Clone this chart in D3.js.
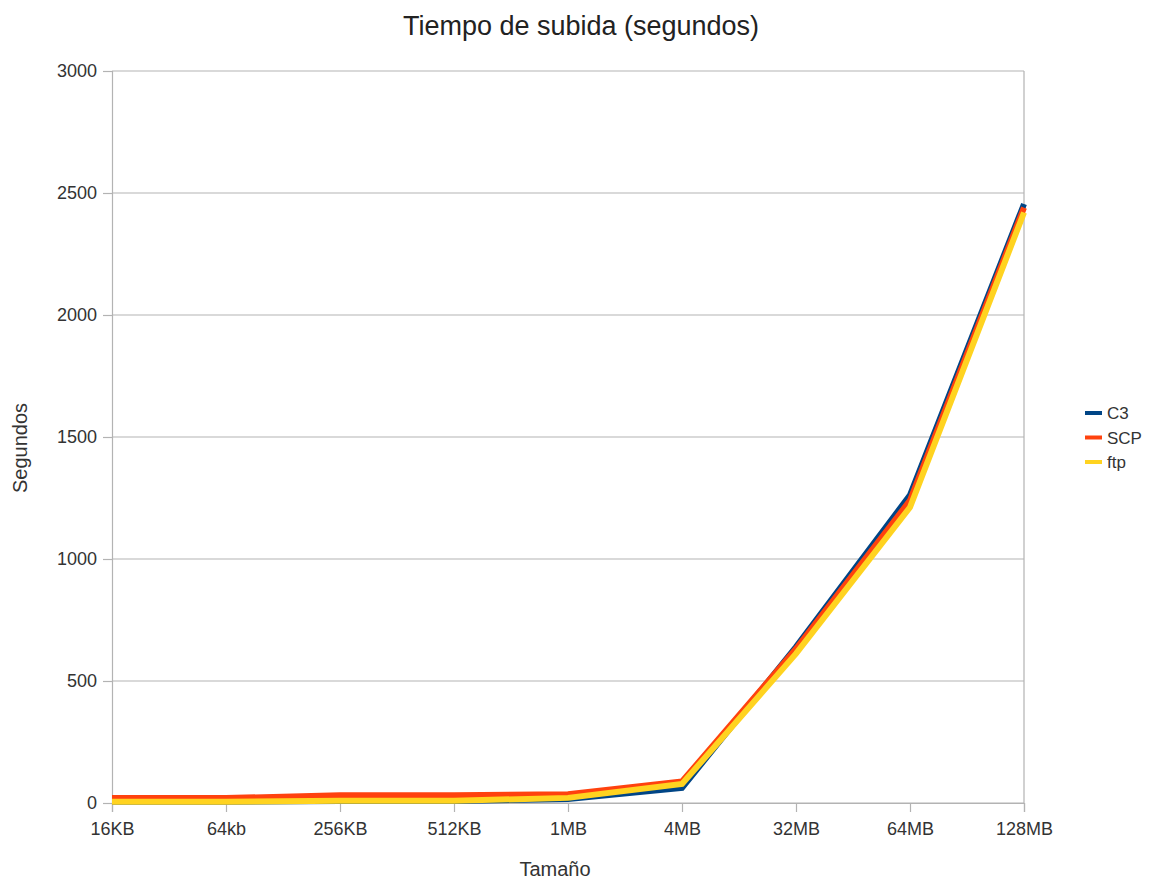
<!DOCTYPE html>
<html>
<head>
<meta charset="utf-8">
<script src="https://d3js.org/d3.v7.min.js"></script>
<style>
  body { margin: 0; background: #fff; }
  text { font-family: "Liberation Sans", Arial, sans-serif; }
</style>
</head>
<body>
<script>
// data
var sizes = ["16KB", "64kb", "256KB", "512KB", "1MB", "4MB", "32MB", "64MB", "128MB"];
var c3  = [5, 5, 8, 8, 16, 62, 640, 1262, 2455];
var scp = [20, 20, 32, 32, 36, 88, 632, 1240, 2440];
var ftp = [5, 5, 9, 9, 21, 78, 612, 1212, 2420];
var yTicks = [0, 500, 1000, 1500, 2000, 2500, 3000];

var series = [
  {name: "C3",  values: c3,  color: "#004586"},
  {name: "SCP", values: scp, color: "#ff420e"},
  {name: "ftp", values: ftp, color: "#ffd320"}
];

var width = 1158, height = 881;
var margin = {top: 71, right: 134, bottom: 78, left: 112};

var svg = d3.select("body").append("svg")
    .attr("width", width)
    .attr("height", height);

var x = d3.scalePoint()
    .domain(sizes)
    .range([margin.left, width - margin.right]);

var y = d3.scaleLinear()
    .domain([0, 3000])
    .range([height - margin.bottom, margin.top]);

// grid
svg.append("g")
  .selectAll("line")
  .data(yTicks)
  .enter().append("line")
    .attr("x1", margin.left)
    .attr("x2", width - margin.right)
    .attr("y1", function(d) { return y(d); })
    .attr("y2", function(d) { return y(d); })
    .attr("stroke", "#b3b3b3")
    .attr("stroke-width", 1.2);

svg.append("line")
    .attr("x1", width - margin.right).attr("x2", width - margin.right)
    .attr("y1", margin.top).attr("y2", height - margin.bottom)
    .attr("stroke", "#b3b3b3")
    .attr("stroke-width", 1.2);

// axes
var yAxis = svg.append("g")
    .attr("transform", "translate(" + margin.left + ",0)")
    .call(d3.axisLeft(y).tickValues(yTicks).tickFormat(d3.format("d")).tickSize(9).tickPadding(6));

var xAxis = svg.append("g")
    .attr("transform", "translate(0," + (height - margin.bottom) + ")")
    .call(d3.axisBottom(x).tickSize(9).tickPadding(10));

[xAxis, yAxis].forEach(function(a) {
  a.selectAll("path, line").attr("stroke", "#b3b3b3").attr("stroke-width", 1.2);
  a.selectAll("text")
    .attr("font-size", 18)
    .attr("fill", "#333")
    .attr("font-family", "Liberation Sans, Arial, sans-serif");
});

// lines
var line = d3.line()
    .x(function(d, i) { return x(sizes[i]); })
    .y(function(d) { return y(d); });

svg.append("g")
  .selectAll("path")
  .data(series)
  .enter().append("path")
    .attr("d", function(d) { return line(d.values); })
    .attr("fill", "none")
    .attr("stroke", function(d) { return d.color; })
    .attr("stroke-width", 6)
    .attr("stroke-linejoin", "miter");

// titles
svg.append("text")
    .attr("x", 581)
    .attr("y", 35)
    .attr("text-anchor", "middle")
    .attr("font-size", 27)
    .attr("fill", "#222")
    .text("Tiempo de subida (segundos)");

svg.append("text")
    .attr("x", 555)
    .attr("y", 876)
    .attr("text-anchor", "middle")
    .attr("font-size", 20)
    .attr("fill", "#333")
    .text("Tamaño");

svg.append("text")
    .attr("transform", "translate(27," + 448 + ") rotate(-90)")
    .attr("text-anchor", "middle")
    .attr("font-size", 20)
    .attr("fill", "#333")
    .text("Segundos");

// legend
var legend = svg.append("g")
    .attr("transform", "translate(1085,413)");

var item = legend.selectAll("g")
  .data(series)
  .enter().append("g")
    .attr("transform", function(d, i) { return "translate(0," + (i * 24.5) + ")"; });

item.append("line")
    .attr("x1", 0).attr("x2", 17)
    .attr("stroke", function(d) { return d.color; })
    .attr("stroke-width", 4);

item.append("text")
    .attr("x", 22)
    .attr("y", 6)
    .attr("font-size", 17)
    .attr("fill", "#333")
    .text(function(d) { return d.name; });
</script>
</body>
</html>
